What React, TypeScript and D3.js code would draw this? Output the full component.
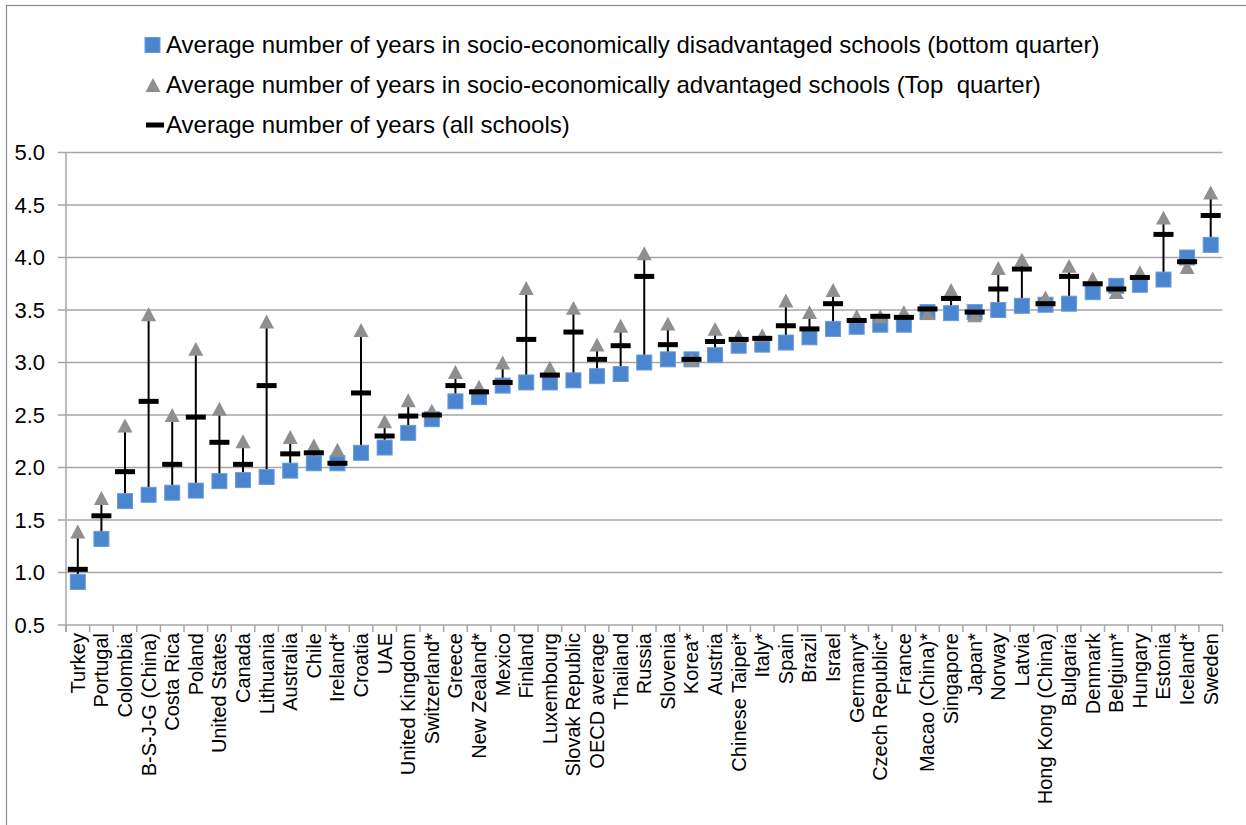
import React from "react";
import * as d3 from "d3";

const categories = ["Turkey","Portugal","Colombia","B-S-J-G (China)","Costa Rica","Poland","United States","Canada","Lithuania","Australia","Chile","Ireland*","Croatia","UAE","United Kingdom","Switzerland*","Greece","New Zealand*","Mexico","Finland","Luxembourg","Slovak Republic","OECD average","Thailand","Russia","Slovenia","Korea*","Austria","Chinese Taipei*","Italy*","Spain","Brazil","Israel","Germany*","Czech Republic*","France","Macao (China)*","Singapore","Japan*","Norway","Latvia","Hong Kong (China)","Bulgaria","Denmark","Belgium*","Hungary","Estonia","Iceland*","Sweden"];

const disadvantaged = [0.91,1.32,1.68,1.74,1.76,1.78,1.87,1.88,1.91,1.97,2.04,2.04,2.14,2.19,2.33,2.46,2.63,2.67,2.78,2.81,2.81,2.83,2.87,2.89,3.00,3.03,3.03,3.07,3.16,3.17,3.19,3.24,3.32,3.34,3.36,3.36,3.48,3.47,3.48,3.50,3.54,3.55,3.56,3.67,3.73,3.74,3.79,4.00,4.12];
const advantaged = [1.39,1.71,2.40,3.46,2.50,3.13,2.56,2.25,3.39,2.29,2.21,2.17,3.31,2.44,2.64,2.54,2.91,2.77,3.00,3.71,2.95,3.52,3.17,3.35,4.04,3.37,3.03,3.32,3.25,3.26,3.59,3.48,3.69,3.44,3.44,3.48,3.47,3.69,3.45,3.90,3.98,3.62,3.92,3.80,3.67,3.86,4.38,3.91,4.62];
const average = [1.03,1.54,1.96,2.63,2.03,2.48,2.24,2.03,2.78,2.13,2.14,2.04,2.71,2.30,2.49,2.50,2.78,2.72,2.81,3.22,2.88,3.29,3.03,3.16,3.82,3.17,3.03,3.20,3.22,3.23,3.35,3.32,3.56,3.40,3.44,3.43,3.51,3.61,3.48,3.70,3.89,3.56,3.82,3.75,3.70,3.81,4.22,3.96,4.40];
const yTicks = [0.5,1.0,1.5,2.0,2.5,3.0,3.5,4.0,4.5,5.0];
const legendLabels = [
  "Average number of years in socio-economically disadvantaged schools (bottom quarter)",
  "Average number of years in socio-economically advantaged schools (Top  quarter)",
  "Average number of years (all schools)",
];

const FONT = "'Liberation Sans', Arial, sans-serif";
const BLUE = "#4a85d0";
const BLUE_EDGE = "#6a9ad8";
const GRAY = "#8f8f8f";
const GRID = "#a6a6a6";

export default function App() {
  const W = 1246, H = 825;
  const left = 66, right = 1222.5, top = 152.5, bottom = 625;
  const x = d3.scaleBand<string>().domain(categories).range([left, right]);
  const y = d3.scaleLinear().domain([0.5, 5]).range([bottom, top]);
  const bw = x.bandwidth();
  const cx = (c: string) => (x(c) as number) + bw / 2;
  const tri = (s: number) => {
    const h = s * 0.93;
    return `M0,${-h / 2}L${s / 2},${h / 2}L${-s / 2},${h / 2}Z`;
  };
  const boundaries = d3.range(categories.length + 1).map((i) => left + i * bw);

  return (
    <svg width={W} height={H} style={{ position: "absolute", left: 0, top: 0, background: "#fff" }} fontFamily={FONT}>
      <rect x={6.5} y={5.5} width={W + 10} height={H + 10} fill="#fff" stroke="#8a8a8a" strokeWidth={1.2} />
      {/* Legend */}
      {legendLabels.map((t, i) => {
        const ly = 45 + i * 40;
        return (
          <g key={t}>
            {i === 0 && <rect x={145} y={ly - 7.5} width={15} height={15} fill={BLUE} stroke={BLUE_EDGE} strokeWidth={1} />}
            {i === 1 && <path d={tri(15)} transform={`translate(153,${ly})`} fill={GRAY} />}
            {i === 2 && <rect x={146} y={ly - 2.5} width={18} height={5} fill="#000" />}
            <text x={166} y={ly} dy="0.35em" fontSize={24} fill="#000" style={{ whiteSpace: "pre" }}>{t}</text>
          </g>
        );
      })}
      {/* Gridlines */}
      {yTicks.map((t) => (
        <line key={t} x1={left} x2={right} y1={y(t)} y2={y(t)} stroke={GRID} strokeWidth={1.5} />
      ))}
      {/* Y axis */}
      <line x1={left} x2={left} y1={top} y2={bottom + 7} stroke={GRID} strokeWidth={1.5} />
      {yTicks.map((t) => (
        <g key={"yt" + t}>
          <line x1={left - 8} x2={left} y1={y(t)} y2={y(t)} stroke={GRID} strokeWidth={1.5} />
          <text x={45} y={y(t)} dy="0.35em" textAnchor="end" fontSize={22} fill="#000">{t.toFixed(1)}</text>
        </g>
      ))}
      {/* X axis ticks */}
      {boundaries.map((b, i) => (
        <line key={"xt" + i} x1={b} x2={b} y1={bottom} y2={bottom + 7} stroke={GRID} strokeWidth={1.5} />
      ))}
      {/* X labels */}
      {categories.map((c) => (
        <text key={"xl" + c} transform={`translate(${cx(c)},${bottom + 8}) rotate(-90)`} dy="0.35em" textAnchor="end" fontSize={20} fill="#000">{c}</text>
      ))}
      {/* Range lines */}
      {categories.map((c, i) => (
        <line key={"rl" + c} x1={cx(c)} x2={cx(c)} y1={y(Math.min(disadvantaged[i], advantaged[i]))} y2={y(Math.max(disadvantaged[i], advantaged[i]))} stroke="#000" strokeWidth={2} />
      ))}
      {/* Squares */}
      {categories.map((c, i) => (
        <rect key={"sq" + c} x={cx(c) - 7.5} y={y(disadvantaged[i]) - 7.5} width={15} height={15} fill={BLUE} stroke={BLUE_EDGE} strokeWidth={1} />
      ))}
      {/* Triangles */}
      {categories.map((c, i) => (
        <path key={"tr" + c} d={tri(15)} transform={`translate(${cx(c)},${y(advantaged[i])})`} fill={GRAY} />
      ))}
      {/* Mean dashes */}
      {categories.map((c, i) => (
        <rect key={"mn" + c} x={cx(c) - 10} y={y(average[i]) - 2.5} width={20} height={5} fill="#000" />
      ))}
    </svg>
  );
}
